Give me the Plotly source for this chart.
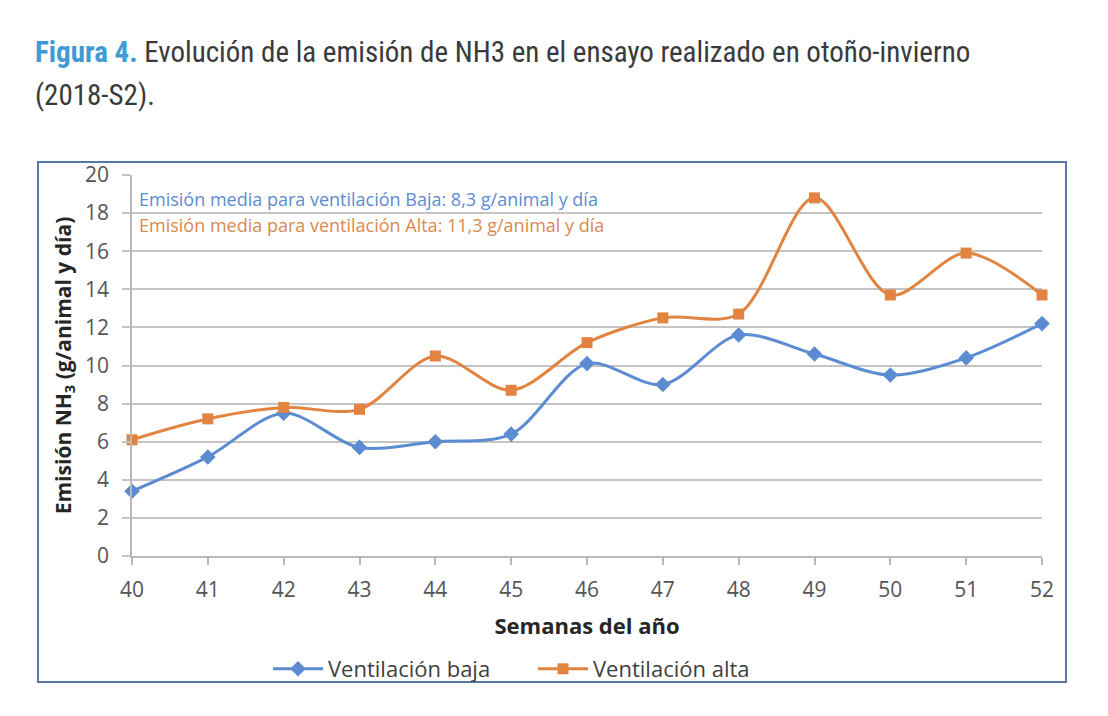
import plotly.graph_objects as go

weeks = [40, 41, 42, 43, 44, 45, 46, 47, 48, 49, 50, 51, 52]
baja = [3.4, 5.2, 7.5, 5.7, 6.0, 6.4, 10.1, 9.0, 11.6, 10.6, 9.5, 10.4, 12.2]
alta = [6.1, 7.2, 7.8, 7.7, 10.5, 8.7, 11.2, 12.5, 12.7, 18.8, 13.7, 15.9, 13.7]
y_ticks = [0, 2, 4, 6, 8, 10, 12, 14, 16, 18, 20]

BLUE = "#5B8CD2"
ORANGE = "#E2843F"
W, H = 1108, 716
L, R, T, B = 132, 1042, 175, 556  # plot area pixel bounds


def px(x):
    return (x - L) / (R - L)


def py(y):
    return (B - y) / (B - T)


fig = go.Figure()
fig.add_trace(go.Scatter(
    x=weeks, y=baja, name="Ventilación baja", mode="lines+markers",
    line=dict(color=BLUE, width=3, shape="spline", smoothing=0.9),
    marker=dict(symbol="diamond", size=12, color=BLUE),
    cliponaxis=False,
))
fig.add_trace(go.Scatter(
    x=weeks, y=alta, name="Ventilación alta", mode="lines+markers",
    line=dict(color=ORANGE, width=3, shape="spline", smoothing=0.9),
    marker=dict(symbol="square", size=11, color=ORANGE),
    cliponaxis=False,
))

chart_font = "'Open Sans', Lato, sans-serif"

fig.update_layout(
    width=W, height=H,
    margin=dict(l=L, r=W - R, t=T, b=H - B, pad=0),
    paper_bgcolor="white", plot_bgcolor="white",
    showlegend=True,
    legend=dict(
        orientation="h", x=px(268), y=py(648), xanchor="left", yanchor="top",
        font=dict(family=chart_font, size=22, color="#404040"),
        itemwidth=50, entrywidth=200, entrywidthmode="pixels",
        bgcolor="rgba(0,0,0,0)",
    ),
    font=dict(family=chart_font, color="#555555"),
    xaxis=dict(
        range=[40, 52], tickmode="array", tickvals=weeks,
        ticktext=[str(w) for w in weeks],
        showgrid=False, zeroline=False,
        showline=True, linecolor="#b8b8b8", linewidth=2,
        ticks="outside", ticklen=7, tickcolor="#b8b8b8", tickwidth=1.5,
        ticklabelstandoff=7,
        tickfont=dict(size=21, color="#555555"),
        title=dict(text="<b>Semanas del año</b>", font=dict(size=22, color="#262626"), standoff=16),
    ),
    yaxis=dict(
        range=[0, 20], tickmode="array", tickvals=y_ticks,
        showgrid=True, gridcolor="#c4c4c4", gridwidth=1.5,
        zeroline=False, showline=True, linecolor="#b8b8b8", linewidth=1.5,
        ticks="outside", ticklen=8, tickcolor="#c4c4c4", tickwidth=1.5,
        ticklabelstandoff=9,
        tickfont=dict(size=21, color="#555555"),
        title=dict(text="<b>Emisión NH<sub>3</sub> (g/animal y día)</b>",
                   font=dict(size=21, color="#262626"), standoff=8),
    ),
)

# outer chart border
fig.add_shape(type="rect", xref="paper", yref="paper",
              x0=px(38), x1=px(1066), y0=py(682), y1=py(162),
              line=dict(color="#5a77aa", width=2), fillcolor="rgba(0,0,0,0)", layer="below")

# annotations inside chart
fig.add_annotation(xref="paper", yref="paper", x=px(137), y=py(199),
                   xanchor="left", yanchor="middle", showarrow=False,
                   text="Emisión media para ventilación Baja: 8,3 g/animal y día",
                   font=dict(family=chart_font, size=18, color="#5B8CD2"))
fig.add_annotation(xref="paper", yref="paper", x=px(137), y=py(225),
                   xanchor="left", yanchor="middle", showarrow=False,
                   text="Emisión media para ventilación Alta: 11,3 g/animal y día",
                   font=dict(family=chart_font, size=18, color="#D98A4E"))

# figure caption (two lines)
cap_font = dict(family="Roboto, sans-serif", size=29, color="#3a3a3a")
fig.add_annotation(xref="paper", yref="paper", x=px(33), y=py(33),
                   xanchor="left", yanchor="top", align="left", showarrow=False,
                   text="<span style='font-stretch:condensed'><b><span style='color:#3f9ad6'>Figura 4.</span></b> Evolución de la emisión de NH3 en el ensayo realizado en otoño-invierno</span>",
                   font=cap_font)
fig.add_annotation(xref="paper", yref="paper", x=px(33), y=py(76),
                   xanchor="left", yanchor="top", align="left", showarrow=False,
                   text="<span style='font-stretch:condensed'>(2018-S2).</span>",
                   font=cap_font)

fig.write_html("out.html")
